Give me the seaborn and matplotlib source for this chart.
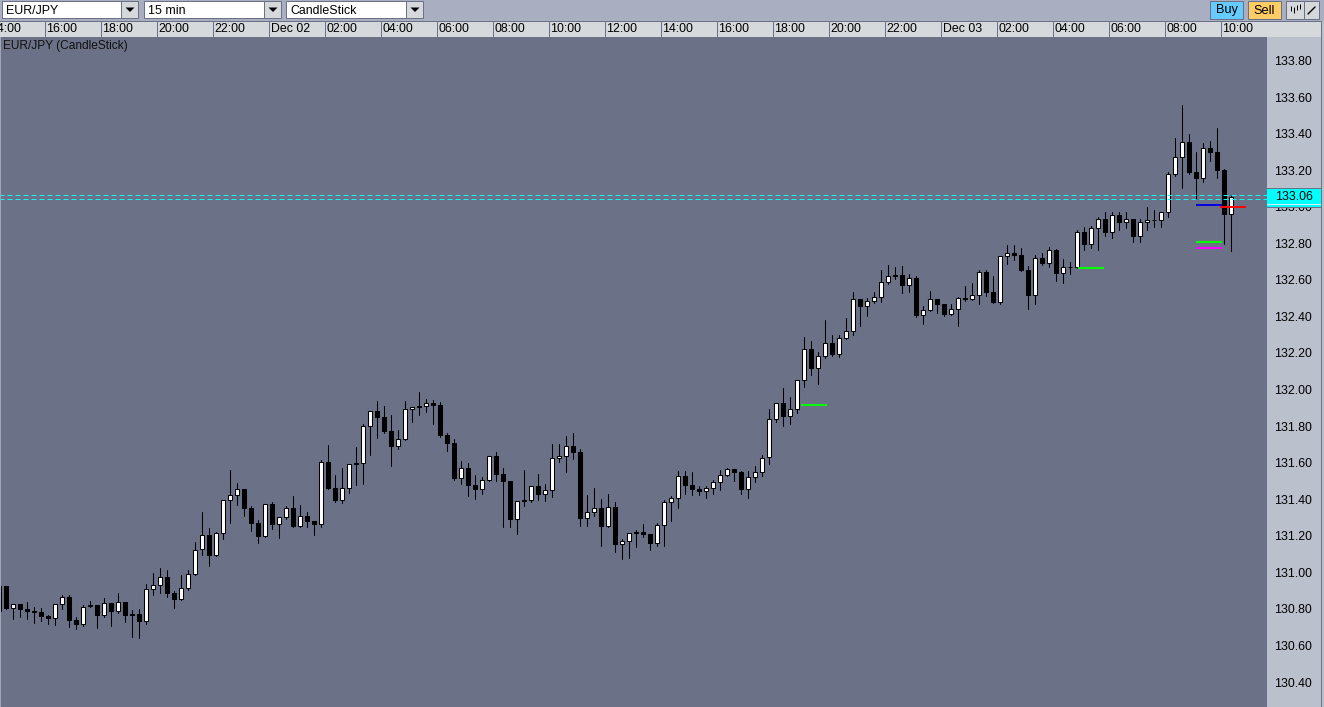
import numpy as np
import pandas as pd
import seaborn as sns
from matplotlib import pyplot as plt
from matplotlib.patches import Polygon, Rectangle

# EUR/JPY 15 min candles, first one is cut by the left edge
opens = [
    130.926, 130.926, 130.802, 130.825, 130.800, 130.789, 130.781, 130.761, 130.747, 130.824,
    130.865, 130.740, 130.712, 130.809, 130.822, 130.763, 130.833, 130.785, 130.838, 130.772,
    130.772, 130.731, 130.905, 130.927, 130.975, 130.887, 130.851, 130.911, 130.988, 131.121,
    131.205, 131.092, 131.212, 131.392, 131.420, 131.456, 131.352, 131.270, 131.195, 131.374,
    131.261, 131.299, 131.352, 131.250, 131.308, 131.281, 131.261, 131.604, 131.461, 131.390,
    131.458, 131.598, 131.594, 131.797, 131.881, 131.850, 131.773, 131.686, 131.726, 131.890,
    131.910, 131.906, 131.926, 131.915, 131.751, 131.707, 131.512, 131.571, 131.478, 131.452,
    131.501, 131.636, 131.538, 131.499, 131.286, 131.395, 131.390, 131.472, 131.425, 131.446,
    131.622, 131.632, 131.691, 131.658, 131.292, 131.326, 131.352, 131.250, 131.357, 131.151,
    131.168, 131.220, 131.220, 131.210, 131.157, 131.255, 131.381, 131.403, 131.527, 131.478,
    131.456, 131.441, 131.457, 131.490, 131.528, 131.565, 131.549, 131.452, 131.517, 131.545,
    131.623, 131.835, 131.926, 131.851, 131.890, 132.048, 132.222, 132.114, 132.180, 132.254,
    132.189, 132.278, 132.316, 132.495, 132.453, 132.480, 132.502, 132.584, 132.626, 132.626,
    132.566, 132.610, 132.404, 132.431, 132.495, 132.468, 132.408, 132.437, 132.501, 132.492,
    132.514, 132.643, 132.534, 132.474, 132.727, 132.747, 132.736, 132.654, 132.514, 132.720,
    132.689, 132.764, 132.634, 132.669, 132.667, 132.862, 132.792, 132.880, 132.933, 132.858,
    132.955, 132.913, 132.933, 132.836, 132.913, 132.926, 132.924, 132.967, 133.175, 133.268,
    133.354, 133.190, 133.153, 133.321, 133.299, 133.201, 132.956]
highs = [
    130.926, 130.926, 130.825, 130.825, 130.838, 130.811, 130.805, 130.767, 130.825, 130.876,
    130.876, 130.756, 130.822, 130.844, 130.822, 130.860, 130.833, 130.887, 130.838, 130.794,
    130.800, 130.935, 130.997, 131.024, 131.013, 130.898, 130.986, 131.011, 131.167, 131.330,
    131.243, 131.221, 131.394, 131.560, 131.489, 131.456, 131.363, 131.287, 131.372, 131.385,
    131.301, 131.363, 131.418, 131.368, 131.330, 131.281, 131.614, 131.697, 131.532, 131.571,
    131.591, 131.686, 131.811, 131.881, 131.937, 131.910, 131.861, 131.779, 131.937, 131.903,
    131.986, 131.948, 131.943, 131.932, 131.762, 131.729, 131.609, 131.598, 131.532, 131.522,
    131.634, 131.658, 131.571, 131.499, 131.388, 131.560, 131.470, 131.538, 131.483, 131.702,
    131.702, 131.745, 131.762, 131.674, 131.423, 131.461, 131.401, 131.428, 131.384, 131.182,
    131.213, 131.231, 131.264, 131.210, 131.270, 131.395, 131.417, 131.554, 131.554, 131.549,
    131.472, 131.472, 131.505, 131.560, 131.570, 131.565, 131.554, 131.554, 131.581, 131.642,
    131.893, 131.924, 132.008, 131.959, 132.050, 132.287, 132.265, 132.205, 132.380, 132.298,
    132.298, 132.391, 132.533, 132.495, 132.500, 132.533, 132.654, 132.681, 132.670, 132.675,
    132.632, 132.621, 132.457, 132.539, 132.495, 132.468, 132.468, 132.506, 132.567, 132.583,
    132.654, 132.654, 132.621, 132.729, 132.791, 132.791, 132.774, 132.676, 132.736, 132.747,
    132.780, 132.769, 132.714, 132.698, 132.873, 132.889, 132.894, 132.944, 132.971, 132.971,
    132.971, 132.971, 132.933, 132.933, 132.998, 132.982, 132.971, 133.190, 133.376, 133.556,
    133.398, 133.299, 133.348, 133.359, 133.430, 133.206, 133.064]
lows = [
    130.783, 130.800, 130.745, 130.756, 130.745, 130.724, 130.734, 130.718, 130.712, 130.800,
    130.701, 130.690, 130.707, 130.809, 130.696, 130.758, 130.707, 130.780, 130.729, 130.647,
    130.641, 130.718, 130.876, 130.887, 130.865, 130.805, 130.849, 130.904, 130.986, 131.095,
    131.035, 131.090, 131.183, 131.270, 131.369, 131.309, 131.227, 131.161, 131.195, 131.237,
    131.188, 131.292, 131.248, 131.250, 131.248, 131.204, 131.248, 131.456, 131.385, 131.379,
    131.434, 131.478, 131.483, 131.642, 131.735, 131.762, 131.582, 131.675, 131.726, 131.822,
    131.861, 131.877, 131.811, 131.740, 131.664, 131.505, 131.483, 131.418, 131.401, 131.429,
    131.501, 131.500, 131.248, 131.248, 131.210, 131.363, 131.384, 131.395, 131.390, 131.412,
    131.603, 131.549, 131.620, 131.253, 131.253, 131.308, 131.144, 131.250, 131.111, 131.073,
    131.078, 131.138, 131.193, 131.122, 131.144, 131.144, 131.281, 131.352, 131.428, 131.423,
    131.423, 131.406, 131.428, 131.450, 131.528, 131.499, 131.428, 131.406, 131.494, 131.527,
    131.592, 131.822, 131.800, 131.811, 131.871, 132.014, 132.079, 132.030, 132.172, 132.183,
    132.178, 132.278, 132.298, 132.347, 132.402, 132.473, 132.479, 132.577, 132.604, 132.528,
    132.533, 132.397, 132.358, 132.430, 132.418, 132.402, 132.408, 132.348, 132.485, 132.492,
    132.468, 132.512, 132.474, 132.468, 132.687, 132.709, 132.649, 132.441, 132.468, 132.681,
    132.671, 132.594, 132.583, 132.632, 132.667, 132.763, 132.774, 132.763, 132.840, 132.829,
    132.873, 132.884, 132.807, 132.807, 132.873, 132.889, 132.889, 132.944, 133.168, 133.102,
    133.179, 133.042, 133.135, 133.250, 133.157, 132.796, 132.758]
closes = [
    130.783, 130.800, 130.825, 130.794, 130.783, 130.778, 130.756, 130.745, 130.825, 130.864,
    130.734, 130.712, 130.809, 130.820, 130.761, 130.831, 130.783, 130.836, 130.761, 130.761,
    130.729, 130.907, 130.929, 130.973, 130.882, 130.849, 130.913, 130.989, 131.121, 131.203,
    131.090, 131.214, 131.394, 131.422, 131.455, 131.347, 131.265, 131.194, 131.372, 131.259,
    131.301, 131.350, 131.248, 131.306, 131.275, 131.259, 131.602, 131.456, 131.390, 131.460,
    131.591, 131.587, 131.800, 131.881, 131.844, 131.768, 131.686, 131.728, 131.892, 131.903,
    131.899, 131.926, 131.910, 131.746, 131.702, 131.511, 131.569, 131.472, 131.450, 131.503,
    131.634, 131.532, 131.494, 131.286, 131.388, 131.384, 131.470, 131.423, 131.448, 131.623,
    131.634, 131.689, 131.652, 131.292, 131.328, 131.350, 131.248, 131.355, 131.149, 131.169,
    131.213, 131.210, 131.204, 131.155, 131.257, 131.383, 131.404, 131.525, 131.472, 131.450,
    131.439, 131.459, 131.492, 131.530, 131.563, 131.543, 131.450, 131.519, 131.547, 131.623,
    131.837, 131.924, 131.850, 131.892, 132.050, 132.220, 132.112, 132.181, 132.253, 132.189,
    132.280, 132.318, 132.493, 132.451, 132.482, 132.504, 132.586, 132.619, 132.615, 132.566,
    132.608, 132.402, 132.433, 132.493, 132.462, 132.407, 132.439, 132.499, 132.490, 132.516,
    132.641, 132.528, 132.474, 132.729, 132.745, 132.731, 132.649, 132.512, 132.718, 132.687,
    132.762, 132.632, 132.669, 132.665, 132.860, 132.791, 132.882, 132.931, 132.856, 132.953,
    132.911, 132.931, 132.834, 132.915, 132.926, 132.922, 132.971, 133.177, 133.270, 133.352,
    133.184, 133.151, 133.319, 133.294, 133.195, 132.955, 133.051]

time_labels = ['14:00', '16:00', '18:00', '20:00', '22:00', 'Dec 02', '02:00', '04:00',
               '06:00', '08:00', '10:00', '12:00', '14:00', '16:00', '18:00', '20:00',
               '22:00', 'Dec 03', '02:00', '04:00', '06:00', '08:00', '10:00', '']
price_ticks = [130.40, 130.60, 130.80, 131.00, 131.20, 131.40, 131.60, 131.80, 132.00,
               132.20, 132.40, 132.60, 132.80, 133.00, 133.20, 133.40, 133.60, 133.80]
dash_levels = [133.063, 133.041]
last_price = 133.06
# price, first candle, last candle, colour
level_prices = [131.917, 132.667, 133.011, 132.998, 132.809, 132.775]
level_start = [113.5, 153.1, 170.0, 173.4, 170.0, 170.0]
level_end = [117.2, 156.8, 173.7, 177.1, 173.7, 173.7]
level_colors = ['#00ff00', '#00ff00', '#0000e0', '#ff0000', '#00ff00', '#ff00ff']

BG = '#6b7186'
TOOLBAR = '#a9aec0'
PANEL = '#bbc0cd'
CELL = '#d5d9dc'
W, H = 1324, 707
AX_L, AX_R, AX_T = -14, 1267, 37
PX_PER_YEN = 182.8

sns.set_theme(style='ticks', rc={'axes.facecolor': BG, 'figure.facecolor': TOOLBAR})
plt.rcParams['font.family'] = ['Liberation Sans', 'DejaVu Sans']


def overlay(fig, z):
    # full figure axes working in screen pixels, for the toolbar bits
    ov = fig.add_axes([0, 0, 1, 1], zorder=z)
    ov.set_xlim(0, W)
    ov.set_ylim(H, 0)
    ov.axis('off')
    ov.patch.set_alpha(0)
    return ov


def box(ov, x0, y0, x1, y1, color, edge='none', lw=0.72):
    ov.add_patch(Rectangle((x0, y0), x1 - x0, y1 - y0, facecolor=color, edgecolor=edge, linewidth=lw))


def dropdown(ov, x0, x1, label):
    box(ov, x0, 1, x1, 18, 'white', '#6b7186')
    box(ov, x1, 1, x1 + 17, 18, CELL, '#6b7186')
    cx = x1 + 9
    ov.add_patch(Polygon([(cx - 4.5, 7.5), (cx + 4.5, 7.5), (cx, 12)], color='black', lw=0))
    ov.text(x0 + 4, 10.5, label, fontsize=8.9, color='black', va='center', ha='left')


def main():
    fig = plt.figure(figsize=(W / 100, H / 100), dpi=100)

    back = overlay(fig, 0)
    box(back, 1267, 37, 1321, H, PANEL)
    box(back, 1321, 21, 1322, H, '#6b7186')
    box(back, 1322, 21, W, H, PANEL)
    box(back, 0, 21, 1322, 37, BG)
    box(back, 0, 22, 1321, 36.5, CELL)

    ax = fig.add_axes([AX_L / W, 0, (AX_R - AX_L) / W, (H - AX_T) / H], zorder=1)

    candles = pd.DataFrame({'idx': np.arange(len(opens)) - 1, 'open': opens, 'high': highs,
                            'low': lows, 'close': closes})
    # bar edge adds a pixel at the bottom, take it off the body
    candles['body_low'] = candles[['open', 'close']].min(axis=1) + 1 / PX_PER_YEN
    candles['body_h'] = ((candles['close'] - candles['open']).abs() - 1 / PX_PER_YEN).clip(lower=0.002)
    up = candles[candles['close'] > candles['open']]
    down = candles[candles['close'] <= candles['open']]

    wicks = candles.melt(id_vars='idx', value_vars=['high', 'low'], value_name='price')
    sns.lineplot(data=wicks, x='idx', y='price', units='idx', estimator=None, color='black',
                 linewidth=0.75, ax=ax, legend=False)
    for part, fill in [(down, 'black'), (up, 'white')]:
        sns.barplot(data=part, x='idx', y='body_h', bottom=part['body_low'].values, native_scale=True,
                    color=fill, saturation=1, edgecolor='black', linewidth=0.75, width=4 / 7,
                    errorbar=None, ax=ax, zorder=3)

    for level in dash_levels:
        ax.axhline(level, color='#19f5f5', linewidth=0.72, linestyle=(0, (5, 3)), zorder=4)
    for price, start, end, col in zip(level_prices, level_start, level_end, level_colors):
        ax.hlines(price, start, end, color=col, linewidth=1.45, zorder=5)

    for side in ax.spines.values():
        side.set_visible(False)
    ax.set_xlabel('')
    ax.set_ylabel('')

    ax.yaxis.tick_right()
    ax.set_yticks(price_ticks, ['%.2f' % p for p in price_ticks])
    ax.tick_params(axis='y', length=0, pad=5.4, labelsize=8.9, labelcolor='black')

    ax.xaxis.tick_top()
    edges = (np.arange(len(time_labels)) * 8 - 2.54)
    ax.set_xticks(edges, [''] * len(edges))
    ax.set_xticks(edges + 0.29, time_labels, minor=True)
    ax.tick_params(axis='x', which='major', length=11.5, width=0.72, color=BG)
    ax.tick_params(axis='x', which='minor', length=0, pad=1.4, labelsize=8.9, labelcolor='black')
    for lab in ax.get_xticklabels(minor=True):
        lab.set_ha('left')

    # 7 px per candle. has to come after set_xticks, that widens the view
    ax.set_xlim((AX_L - 6.3) / 7, (AX_R - 6.3) / 7)
    ax.set_ylim(133.80 - (H - 60.5) / PX_PER_YEN, 133.80 + (60.5 - AX_T) / PX_PER_YEN)

    front = overlay(fig, 2)
    box(front, 0, 0, W, 21, TOOLBAR)
    box(front, 0, 37, 1, H, '#9ea3b5')
    dropdown(front, 2, 121, 'EUR/JPY')
    dropdown(front, 144, 264, '15 min')
    dropdown(front, 286, 406, 'CandleStick')
    box(front, 1210, 1, 1243, 19, '#66ccff', '#6b7186')
    box(front, 1248, 1, 1281, 19, '#ffcc66', '#6b7186')
    front.text(1226.5, 10.5, 'Buy', fontsize=9.2, color='black', ha='center', va='center')
    front.text(1264.5, 10.5, 'Sell', fontsize=9.2, color='black', ha='center', va='center')
    box(front, 1286, 1, 1304, 19, CELL, '#6b7186')
    box(front, 1304, 1, 1319, 19, CELL, '#6b7186')
    front.vlines([1291, 1294, 1297, 1300], [6, 7, 5, 4], [11, 13, 10, 9], color='black', lw=0.72)
    front.plot([1308, 1315], [14, 7], color='black', lw=1.0)

    front.text(3, 45.5, 'EUR/JPY (CandleStick)', fontsize=8.6, color='#111111', ha='left', va='center')

    # price tag over the axis
    box(front, 1267, 187.5, 1321, 207.5, '#6b7186')
    box(front, 1267, 188.5, 1321, 206.5, '#00ffff')
    box(front, 1267, 203.5, 1321, 204.5, '#c8f4f4')
    front.text(1294, 196.5, '%.2f' % last_price, fontsize=8.9, color='black', ha='center', va='center')

    plt.savefig('out.png', dpi=100)


if __name__ == '__main__':
    main()
